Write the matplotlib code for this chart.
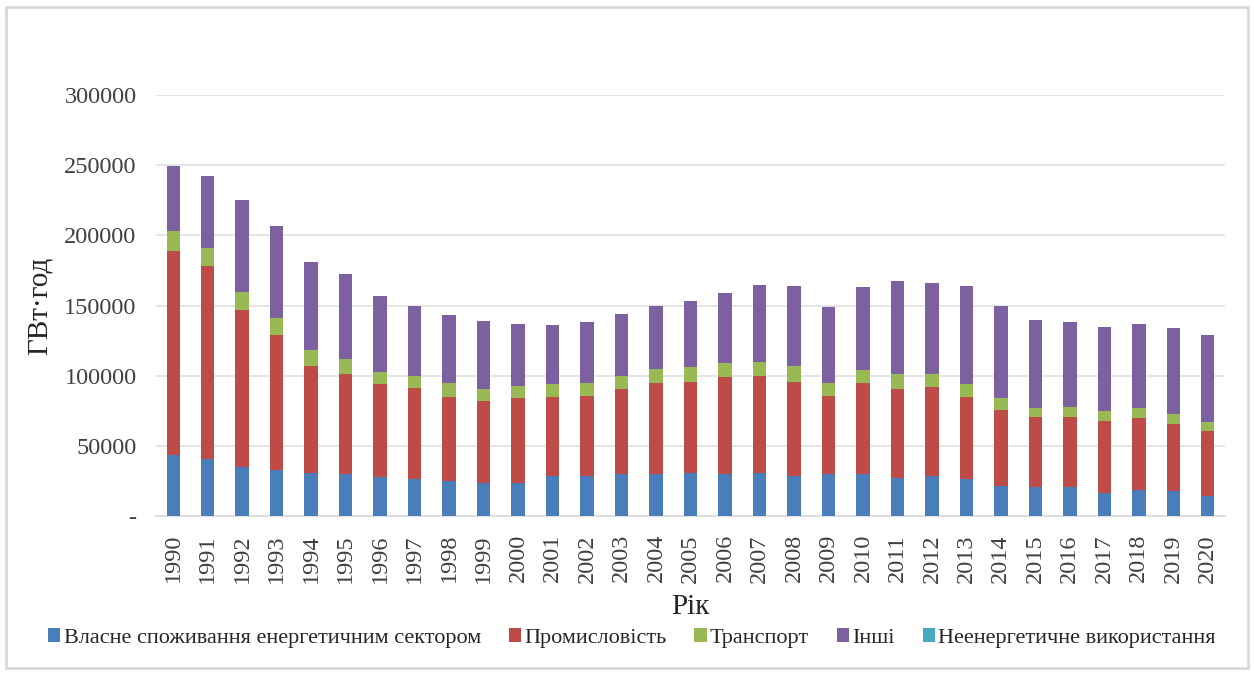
import matplotlib
matplotlib.use('Agg')
import matplotlib.pyplot as plt
import numpy as np
from matplotlib.patches import Rectangle

plt.rcParams['font.family'] = ['Liberation Serif', 'DejaVu Serif']

years = [str(y) for y in range(1990, 2021)]

# cumulative tops (GWh)
blue_top = [43400, 40600, 34700, 32800, 30900, 29700, 27600, 26100, 24900, 23700,
            23300, 28700, 28700, 29700, 29700, 30900, 29700, 30900, 28700, 29700,
            29700, 26800, 28700, 26400, 21400, 20400, 20400, 16600, 18500, 18000, 14500]
red_top = [189000, 178000, 146700, 128700, 106800, 100900, 93800, 90900, 84800, 81900,
           83800, 84800, 85700, 90700, 94700, 95700, 98800, 99700, 95700, 85700,
           94700, 90700, 91700, 84800, 75700, 70700, 70700, 67700, 69800, 65500, 60800]
green_top = [203000, 191000, 159800, 141000, 118200, 111800, 102800, 99500, 94700, 90700,
             92800, 94000, 94700, 99700, 104700, 105900, 108700, 109900, 106800, 94700,
             103800, 100900, 100900, 93800, 83800, 76900, 77900, 74800, 76900, 72600, 66700]
total = [249300, 242200, 225000, 207000, 181000, 172800, 156900, 150000, 142900, 138700,
         137000, 135800, 138000, 143900, 150000, 152900, 158800, 164700, 163800, 148900,
         162900, 167800, 165700, 163800, 150000, 139800, 138000, 134800, 136800, 133700, 128700]

own_use = np.array(blue_top)
industry = np.array(red_top) - np.array(blue_top)
transport = np.array(green_top) - np.array(red_top)
other = np.array(total) - np.array(green_top)
non_energy = np.zeros(len(years))

series = [
    ('Власне споживання енергетичним сектором', own_use, '#4a7ebb'),
    ('Промисловість', industry, '#be4b48'),
    ('Транспорт', transport, '#98b954'),
    ('Інші', other, '#7d60a0'),
    ('Неенергетичне використання', non_energy, '#46aac5'),
]

fig = plt.figure(figsize=(12.54, 6.75), dpi=100)
fig.patches.append(Rectangle((6 / 1254, 7 / 675), 1242 / 1254, 661 / 675,
                             transform=fig.transFigure, fill=False,
                             edgecolor='#d9d9d9', linewidth=2))
ax = fig.add_axes([156 / 1254, 1 - 516 / 675, 1069 / 1254, 421 / 675])

x = np.arange(len(years))
bottom = np.zeros(len(years))
for name, vals, col in series:
    ax.bar(x, vals, 0.39, bottom=bottom, color=col, label=name, zorder=3)
    bottom = bottom + vals

ax.set_xlim(-0.5, len(years) - 0.5)
ax.set_ylim(0, 300000)
ax.set_yticks(range(0, 300001, 50000))
ax.set_yticklabels(['-'] + [str(v) for v in range(50000, 300001, 50000)])
ax.set_xticks(x)
ax.set_xticklabels(years, rotation=90)
ax.tick_params(axis='y', length=0, pad=14, labelsize=17.5, colors='#404040')
ax.tick_params(axis='x', length=0, pad=13, labelsize=17.5, colors='#404040')
ax.grid(axis='y', color='#e0e0e0', linewidth=1.2, zorder=0)
for s in ['top', 'right', 'left']:
    ax.spines[s].set_visible(False)
ax.spines['bottom'].set_color('#d9d9d9')
ax.spines['bottom'].set_linewidth(1.2)

ax.set_ylabel('ГВт·год', fontsize=21, color='#262626', labelpad=8)
fig.text(690 / 1254, 1 - 607 / 675, 'Рік', fontsize=21, color='#262626',
         ha='center', va='center')

handles, labels = ax.get_legend_handles_labels()
leg = fig.legend(handles, labels, loc='center', bbox_to_anchor=(632 / 1254, 1 - 638 / 675),
                 ncol=5, frameon=False, fontsize=16, handlelength=0.55, handleheight=0.6,
                 handletextpad=0.15, columnspacing=1.25, labelcolor='#262626')
for t in leg.get_texts():
    t.set_va('baseline')

fig.savefig('out.png', dpi=100)
